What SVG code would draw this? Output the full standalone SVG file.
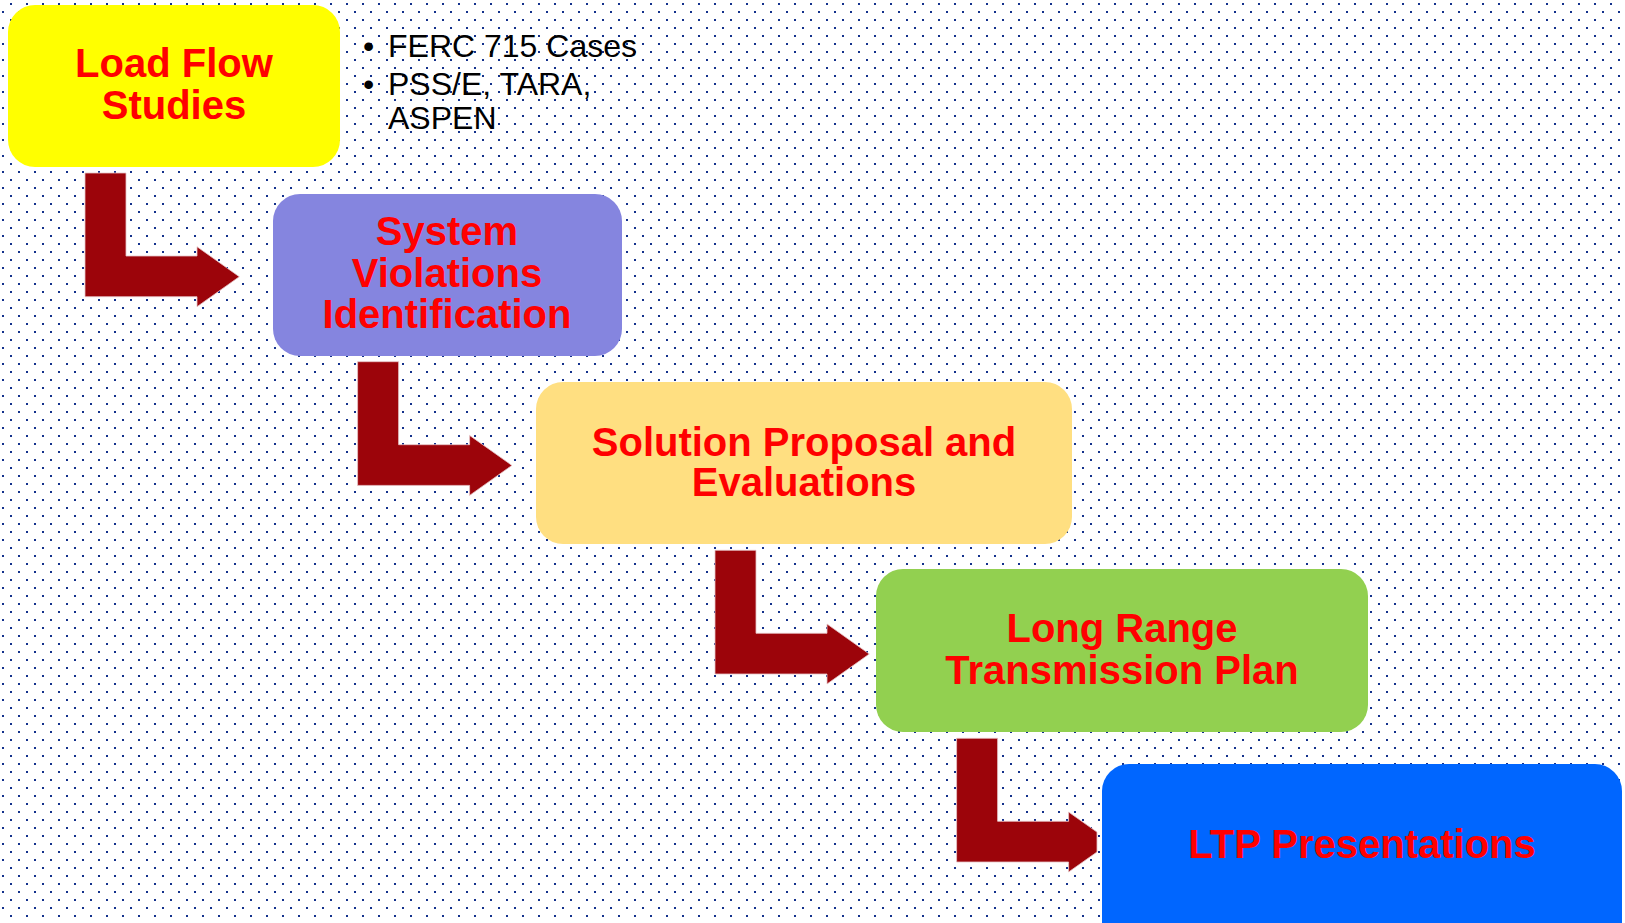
<svg xmlns="http://www.w3.org/2000/svg" width="1625" height="923" viewBox="0 0 1625 923">
<defs>
<pattern id="dots" patternUnits="userSpaceOnUse" width="16" height="16">
<rect x="10" y="3" width="2" height="2" fill="#13318c"/>
<rect x="2" y="11" width="2" height="2" fill="#13318c"/>
</pattern>
<polygon id="bent" points="85,173 126,173 126,256 197,256 197,246.7 239.3,276.7 197,306.7 197,296.7 85,296.7"/>
</defs>
<style>
.lbl{font-family:"Liberation Sans",Arial,sans-serif;font-weight:bold;font-size:40px;fill:#ff0000;text-anchor:middle}
.bul{font-family:"Liberation Sans",Arial,sans-serif;font-size:32px;fill:#000000}
.arr{fill:#9c040a;stroke:#e6c4c6;stroke-width:0.8}
</style>
<rect width="1625" height="923" fill="#ffffff"/>
<rect width="1625" height="923" fill="url(#dots)"/>
<g id="connectors">
<use href="#bent" class="arr"/>
<use href="#bent" class="arr" transform="translate(272.6,188.7)"/>
<use href="#bent" class="arr" transform="translate(630,377.3)"/>
<polygon class="arr" points="956.6,738.3 997.6,738.3 997.6,821.3 1068.6,821.3 1068.6,812 1097,832.1 1097,852 1068.6,872 1068.6,862 956.6,862"/>
</g>
<g id="node-load-flow">
<rect x="8" y="5" width="332" height="162" rx="27" fill="#ffff00"/>
<text class="lbl" x="174" y="77">Load Flow</text>
<text class="lbl" x="174" y="119">Studies</text>
</g>
<g id="notes">
<text class="bul" x="363" y="57">•</text>
<text class="bul" x="388" y="57">FERC 715 Cases</text>
<text class="bul" x="363" y="95">•</text>
<text class="bul" x="388" y="95">PSS/E, TARA,</text>
<text class="bul" x="388" y="129">ASPEN</text>
</g>
<g id="node-violations">
<rect x="273" y="194" width="349" height="162" rx="27" fill="#8585df"/>
<text class="lbl" x="447" y="245">System</text>
<text class="lbl" x="447" y="287">Violations</text>
<text class="lbl" x="447" y="328">Identification</text>
</g>
<g id="node-solution">
<rect x="536" y="382" width="536" height="162" rx="27" fill="#ffdf81"/>
<text class="lbl" x="804" y="456">Solution Proposal and</text>
<text class="lbl" x="804" y="496">Evaluations</text>
</g>
<g id="node-ltp">
<rect x="876" y="569" width="492" height="163" rx="27" fill="#92d050"/>
<text class="lbl" x="1122" y="642">Long Range</text>
<text class="lbl" x="1122" y="684">Transmission Plan</text>
</g>
<g id="node-presentations">
<rect x="1102" y="764" width="520" height="200" rx="27" fill="#0066ff"/>
<text class="lbl" x="1362" y="858">LTP Presentations</text>
</g>
</svg>
